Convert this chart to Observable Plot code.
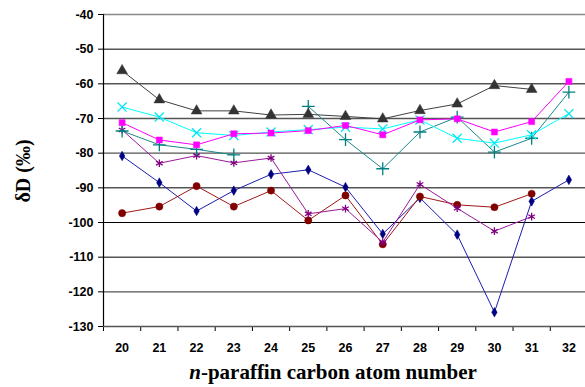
<!DOCTYPE html>
<html><head><meta charset="utf-8">
<script src="https://cdn.jsdelivr.net/npm/d3@7"></script>
<script src="https://cdn.jsdelivr.net/npm/@observablehq/plot@0.6"></script>
<style>body{margin:0;background:#fff;overflow:hidden}</style>
</head><body><div id="chart"></div>
<script>
const carbon = [20, 21, 22, 23, 24, 25, 26, 27, 28, 29, 30, 31, 32];
const yTicks = [-40, -50, -60, -70, -80, -90, -100, -110, -120, -130];
const grayTriangle = [-56.2, -64.6, -67.8, -67.8, -69.0, -68.8, -69.4, -70.1, -67.7, -65.8, -60.5, -61.6, null];
const magentaSquare = [-71.2, -76.2, -77.6, -74.4, -74.2, -73.5, -72.0, -74.7, -70.4, -70.1, -73.9, -70.9, -59.3];
const cyanTimes = [-66.7, -69.6, -74.1, -74.9, -73.9, -73.2, -72.5, -73.0, -70.4, -75.7, -77.1, -74.7, -68.6];
const tealPlus = [-73.6, -77.6, -78.9, -80.5, null, -66.5, -76.1, -84.5, -73.9, -69.6, -79.7, -75.7, -62.4];
const purpleAsterisk = [-73.3, -82.9, -80.7, -82.8, -81.4, -97.5, -96.0, -105.7, -89.0, -95.9, -102.5, -98.3, null];
const redCircle = [-97.3, -95.4, -89.5, -95.4, -90.8, -99.4, -92.2, -106.3, -92.5, -94.9, -95.6, -91.7, null];
const navyDiamond = [-80.8, -88.5, -96.7, -90.8, -86.1, -84.8, -89.8, -103.3, -92.9, -103.5, -125.9, -93.9, -87.7];
const yTitle = "δD (‰)";
const xTitleItalic = "n";
const xTitleRest = "-paraffin carbon atom number";

const series = [
  {values: navyDiamond, line: "#1c1cb0", color: "#000080", symbol: "diamond", r: 2.9, filled: true},
  {values: redCircle, line: "#a01818", color: "#800000", symbol: "circle", r: 3.6, filled: true},
  {values: purpleAsterisk, line: "#9a1a9a", color: "#800080", symbol: "asterisk", r: 3.6, filled: false},
  {values: tealPlus, line: "#1a8a8a", color: "#008080", symbol: "plus", r: 4.2, filled: false},
  {values: cyanTimes, line: "#00ffff", color: "#00e8f0", symbol: "times", r: 4.2, filled: false},
  {values: magentaSquare, line: "#ff00ff", color: "#ff00ff", symbol: "square", r: 3.4, filled: true},
  {values: grayTriangle, line: "#404040", color: "#333333", symbol: "triangle", r: 4.0, filled: true}
];

const bounds = d3.range(19.5, 33, 1);
const marks = [
  Plot.ruleY([-50, -60, -90, -100, -110], {stroke: "#000", strokeWidth: 1}),
  Plot.ruleY([-70, -80, -120], {stroke: "#555", strokeWidth: 1.3}),
  Plot.ruleY([-40], {stroke: "#888", strokeWidth: 1.3}),
  Plot.axisY({ticks: yTicks, tickSize: 5, tickPadding: 5, tickFormat: d => d, label: null, stroke: "#000"}),
  Plot.axisX({ticks: bounds, tickSize: 5, tickFormat: () => "", label: null, stroke: "#000"}),
  Plot.axisX({ticks: carbon, tickSize: 0, tickPadding: 16.5, tickFormat: d => d, label: null}),
  Plot.ruleX([19.5], {stroke: "#000", strokeWidth: 1.2}),
  Plot.ruleY([-130], {stroke: "#555", strokeWidth: 1.5})
];
for (const s of series) {
  const rows = carbon.map((c, i) => ({c, v: s.values[i] == null ? NaN : s.values[i]}));
  marks.push(Plot.line(rows, {x: "c", y: "v", stroke: s.line, strokeWidth: 1}));
  marks.push(Plot.dot(rows.filter(d => !isNaN(d.v)), {
    x: "c", y: "v", symbol: () => s.symbol, r: s.r,
    fill: s.filled ? s.color : "none", stroke: s.color, strokeWidth: s.filled ? 0.5 : 1.3
  }));
}

const chart = Plot.plot({
  width: 585, height: 387,
  marginLeft: 103, marginRight: 0, marginTop: 14, marginBottom: 61,
  x: {type: "linear", domain: [19.5, 32.5], range: [103, 587]},
  y: {domain: [-130, -40]},
  style: {fontFamily: "Liberation Sans, Arial, sans-serif", fontSize: "12.5px", fontWeight: "bold", color: "#000", background: "#fff"},
  marks
});

const svg = d3.select(chart);
const serif = "Liberation Serif, Times New Roman, serif";
svg.append("text")
  .attr("transform", "translate(23,171) rotate(-90)")
  .attr("text-anchor", "middle").attr("dominant-baseline", "central")
  .attr("font-family", serif).attr("font-size", 20).attr("font-weight", "bold").attr("fill", "#000")
  .text(yTitle);
const xt = svg.append("text")
  .attr("x", 333).attr("y", 379)
  .attr("text-anchor", "middle")
  .attr("font-family", serif).attr("font-size", 21).attr("font-weight", "bold").attr("fill", "#000");
xt.append("tspan").attr("font-style", "italic").text(xTitleItalic);
xt.append("tspan").text(xTitleRest);

document.getElementById("chart").appendChild(chart);
</script>
</body></html>
